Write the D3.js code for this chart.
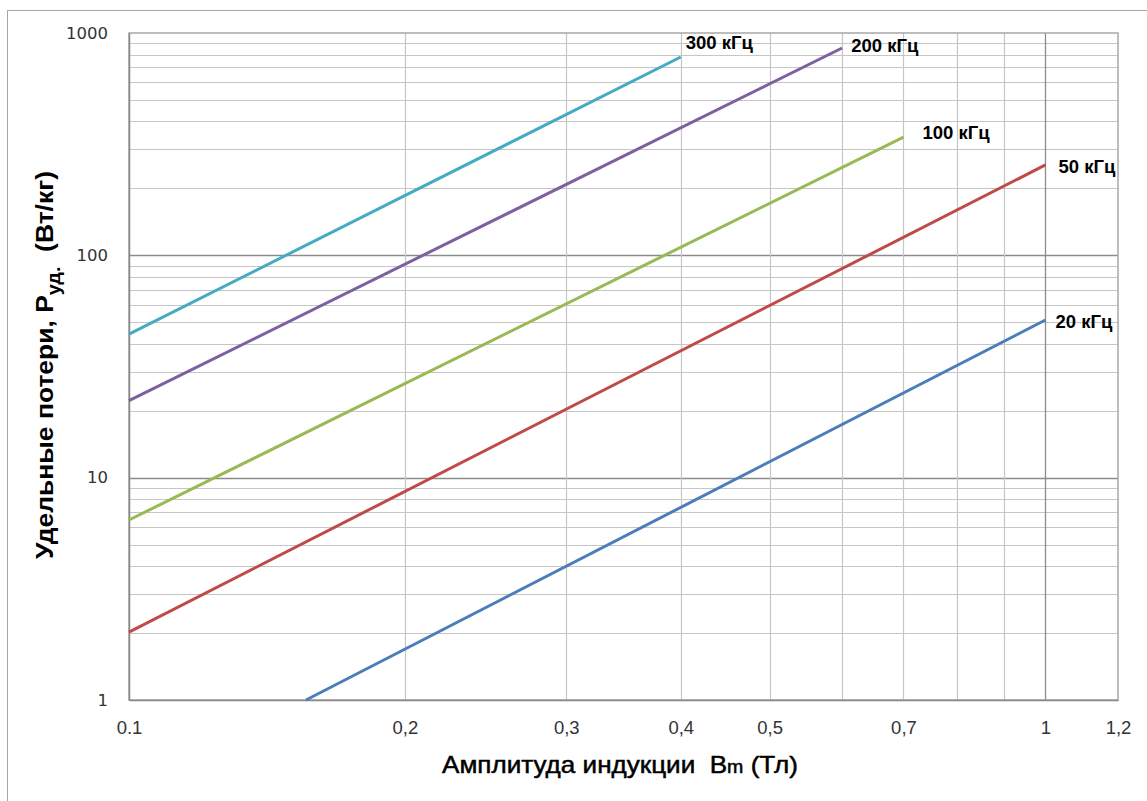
<!DOCTYPE html>
<html>
<head>
<meta charset="utf-8">
<script src="https://cdn.jsdelivr.net/npm/d3@7"></script>
<style>
  html, body { margin: 0; padding: 0; background: #ffffff; }
  svg { display: block; }
  text { white-space: pre; }
</style>
</head>
<body>
<script>
// ---------------- data ----------------
const seriesNames = ["20 кГц", "50 кГц", "100 кГц", "200 кГц", "300 кГц"];
const bStart = [0.156, 0.1, 0.1, 0.1, 0.1];      // Bm (Тл) at line start
const bEnd   = [1.0, 1.0, 0.70, 0.60, 0.40];      // Bm (Тл) at line end
const pStart = [1.0, 2.02, 6.45, 22.2, 44.2];     // Руд (Вт/кг) at line start
const pEnd   = [51.2, 255, 340, 856, 780];        // Руд (Вт/кг) at line end

const xTickValues = [0.1, 0.2, 0.3, 0.4, 0.5, 0.7, 1, 1.2];
const xTickLabels = ["0.1", "0,2", "0,3", "0,4", "0,5", "0,7", "1", "1,2"];
const yTickValues = [1, 10, 100, 1000];
const yTickLabels = ["1", "10", "100", "1000"];

const xTitle = "Амплитуда индукции  B";
const xTitleSub = "m";
const xTitleEnd = " (Тл)";
const yTitle = "Удельные потери, P";
const yTitleSub = "уд.";
const yTitleEnd = "  (Вт/кг)";

// ---------------- styles / layout ----------------
const colors = ["#4a7ebb", "#be4b48", "#98b954", "#7d60a0", "#46aac5"];
const labelNudge = [[10, 2], [13, 2], [19, -5], [9, -3], [5, -14]];
const W = 1147, H = 801;
const plot = { left: 129, right: 1118, top: 33, bottom: 700 };

const svg = d3.select("body").append("svg").attr("width", W).attr("height", H);

// outer chart frame
svg.append("rect")
  .attr("x", 7.5).attr("y", 10.5).attr("width", 1300).attr("height", 1000)
  .attr("fill", "#ffffff").attr("stroke", "#a6a6a6").attr("stroke-width", 1);

const x = d3.scaleLog().domain([0.1, 1.2]).range([plot.left, plot.right]);
const y = d3.scaleLog().domain([1, 1000]).range([plot.bottom, plot.top]);

const isMajor = v => Math.abs(Math.log10(v) - Math.round(Math.log10(v))) < 1e-9;

// horizontal grid
const gy = svg.append("g");
gy.selectAll("line").data(y.ticks().filter(v => v > 1 && v < 1000))
  .join("line")
  .attr("x1", plot.left).attr("x2", plot.right)
  .attr("y1", d => Math.round(y(d)) + 0.5).attr("y2", d => Math.round(y(d)) + 0.5)
  .attr("stroke", d => isMajor(d) ? "#8c8c8c" : "#c6c6c6")
  .attr("stroke-width", d => isMajor(d) ? 1.3 : 1.2);

// vertical grid
const gx = svg.append("g");
gx.selectAll("line").data(x.ticks().filter(v => v > 0.1 + 1e-9 && v < 1.2))
  .join("line")
  .attr("y1", plot.top).attr("y2", plot.bottom)
  .attr("x1", d => Math.round(x(d)) + 0.5).attr("x2", d => Math.round(x(d)) + 0.5)
  .attr("stroke", d => isMajor(d) ? "#8c8c8c" : "#c6c6c6")
  .attr("stroke-width", d => isMajor(d) ? 1.3 : 1.2);

// plot frame
svg.append("rect")
  .attr("x", plot.left).attr("y", plot.top)
  .attr("width", plot.right - plot.left).attr("height", plot.bottom - plot.top)
  .attr("fill", "none").attr("stroke", "#a8a8a8").attr("stroke-width", 1.5);

// axes
const xAxis = d3.axisBottom(x).tickValues(xTickValues)
  .tickFormat((d, i) => xTickLabels[i]).tickSize(0).tickPadding(21);
const gxa = svg.append("g").attr("transform", `translate(0,${plot.bottom})`).call(xAxis);
gxa.select(".domain").attr("stroke", "#888888").attr("stroke-width", 1.5);
gxa.selectAll("text")
  .attr("font-family", "'Liberation Sans', Arial, sans-serif")
  .attr("font-size", 18.5).attr("fill", "#333");

const yAxis = d3.axisLeft(y).tickValues(yTickValues)
  .tickFormat((d, i) => yTickLabels[i]).tickSize(0).tickPadding(21);
const gya = svg.append("g").attr("transform", `translate(${plot.left},0)`).call(yAxis);
gya.select(".domain").attr("stroke", "#888888").attr("stroke-width", 1.5);
gya.selectAll("text")
  .attr("font-family", "'DejaVu Sans', Verdana, sans-serif")
  .attr("font-size", 16.5).attr("fill", "#333");

// series lines
const line = d3.line().x(d => x(d[0])).y(d => y(d[1]));
const series = seriesNames.map((name, i) => ({
  name, color: colors[i],
  pts: [[bStart[i], pStart[i]], [bEnd[i], pEnd[i]]]
}));

svg.append("g").selectAll("path").data(series).join("path")
  .attr("d", d => line(d.pts))
  .attr("fill", "none").attr("stroke", d => d.color)
  .attr("stroke-width", 3);

// series labels
svg.append("g").selectAll("text").data(series).join("text")
  .attr("x", (d, i) => x(bEnd[i]) + labelNudge[i][0])
  .attr("y", (d, i) => y(pEnd[i]) + labelNudge[i][1])
  .attr("dominant-baseline", "central")
  .attr("font-family", "'Liberation Sans', Arial, sans-serif")
  .attr("font-weight", "bold").attr("font-size", 18.5).attr("fill", "#000")
  .text(d => d.name);

// x title
const xt = svg.append("text")
  .attr("x", 442).attr("y", 773)
  .attr("font-family", "'Liberation Sans', Arial, sans-serif")
  .attr("font-size", 24).attr("fill", "#000")
  .attr("stroke", "#000").attr("stroke-width", 0.5)
  .attr("textLength", 356).attr("lengthAdjust", "spacingAndGlyphs");
xt.append("tspan").text(xTitle);
xt.append("tspan").attr("font-size", 18).text(xTitleSub);
xt.append("tspan").text(xTitleEnd);

// y title
const yt = svg.append("text")
  .attr("transform", "translate(53,365) rotate(-90)")
  .attr("text-anchor", "middle")
  .attr("font-family", "'Liberation Sans', Arial, sans-serif")
  .attr("font-weight", "bold").attr("font-size", 24).attr("fill", "#000")
  .attr("textLength", 388).attr("lengthAdjust", "spacingAndGlyphs");
yt.append("tspan").text(yTitle);
yt.append("tspan").attr("font-size", 18).attr("dy", 7).text(yTitleSub);
yt.append("tspan").attr("dy", -7).text(yTitleEnd);
</script>
</body>
</html>
